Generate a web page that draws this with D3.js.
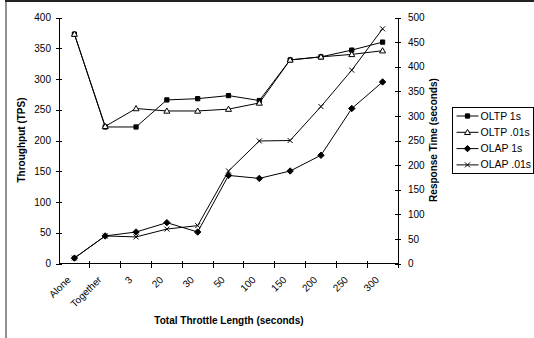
<!DOCTYPE html>
<html>
<head>
<script src="https://d3js.org/d3.v7.min.js"></script>
<style type="text/css">
body { margin:0; background:#fff; }
svg { font-family: "Liberation Sans", Arial, sans-serif; }
.axis path, .axis line { stroke:#000; shape-rendering:crispEdges; }
.axis text { font-size:10px; fill:#000; font-family: "Liberation Sans", Arial, sans-serif; }
.title { font-size:10px; font-weight:bold; }
</style>
</head>
<body>
<svg id="chart" width="534" height="338"></svg>
<script>
// categories and series (OLTP on throughput axis, OLAP on response time axis)
var categories = ["Alone", "Together", "3", "20", "30", "50", "100", "150", "200", "250", "300"];
var oltp1s   = [373, 222, 222, 266, 268, 273, 265, 331, 336, 347, 360];
var oltp001s = [373, 223, 252, 248, 248, 251, 261, 331, 336, 340, 346];
var olap1s   = [11, 56, 64, 83, 64, 179, 173, 188, 220, 315, 369];
var olap001s = [11, 56, 54, 70, 77, 188, 249, 250, 319, 393, 477];
var leftTicks  = [0, 50, 100, 150, 200, 250, 300, 350, 400];
var rightTicks = [0, 50, 100, 150, 200, 250, 300, 350, 400, 450, 500];

var series = [
  {name:"OLTP 1s",   values:oltp1s,   axis:"left",  mark:"square"},
  {name:"OLTP .01s", values:oltp001s, axis:"left",  mark:"triangle"},
  {name:"OLAP 1s",   values:olap1s,   axis:"right", mark:"diamond"},
  {name:"OLAP .01s", values:olap001s, axis:"right", mark:"cross"}
];

var svg = d3.select("#chart");
var plotL = 59, plotR = 398, plotT = 17.5, plotB = 263.5;

// frame (image is cropped: only top and left edges show)
svg.append("line").attr("x1", 5).attr("x2", 534).attr("y1", 1).attr("y2", 1)
  .attr("stroke", "#222").attr("stroke-width", 2);
svg.append("line").attr("x1", 6).attr("x2", 6).attr("y1", 0).attr("y2", 338)
  .attr("stroke", "#222").attr("stroke-width", 1);

var x = d3.scaleBand().domain(categories).range([plotL, plotR]).padding(0);
var yL = d3.scaleLinear().domain([0, 400]).range([plotB, plotT]);
var yR = d3.scaleLinear().domain([0, 500]).range([plotB, plotT]);
function cx(d) { return x(d) + x.bandwidth() / 2; }

// left axis
var gl = svg.append("g").attr("class", "axis")
  .attr("transform", "translate(" + plotL + ",0)")
  .call(d3.axisLeft(yL).tickValues(leftTicks).tickSizeOuter(0).tickSize(3).tickPadding(5));
gl.selectAll(".tick line").attr("x1", -3).attr("x2", 3);

// right axis
var gr = svg.append("g").attr("class", "axis")
  .attr("transform", "translate(" + plotR + ",0)")
  .call(d3.axisRight(yR).tickValues(rightTicks).tickSizeOuter(0).tickSize(3).tickPadding(7));
gr.selectAll(".tick line").attr("x1", -3).attr("x2", 3);

// x axis: ticks on category boundaries, labels rotated
var gx = svg.append("g").attr("class", "axis");
gx.append("line").attr("x1", plotL).attr("x2", plotR).attr("y1", plotB).attr("y2", plotB);
gx.selectAll(".xt").data(categories.slice(1).concat(["end"])).enter().append("line")
  .attr("x1", function(d) { return d === "end" ? plotR : x(d); })
  .attr("x2", function(d) { return d === "end" ? plotR : x(d); })
  .attr("y1", plotB - 3).attr("y2", plotB + 4);
gx.selectAll(".xl").data(categories).enter().append("text")
  .attr("text-anchor", "end")
  .attr("transform", function(d) { return "translate(" + (cx(d) - 3) + "," + (plotB + 17) + ") rotate(-45)"; })
  .text(function(d) { return d; });

// axis titles
svg.append("text").attr("class", "title").attr("text-anchor", "middle")
  .attr("transform", "translate(25,140) rotate(-90)").text("Throughput (TPS)");
svg.append("text").attr("class", "title").attr("text-anchor", "middle")
  .attr("transform", "translate(437,140) rotate(-90)").text("Response Time (seconds)");
svg.append("text").attr("class", "title").attr("text-anchor", "middle")
  .attr("x", 229).attr("y", 324).text("Total Throttle Length (seconds)");

function markPath(kind) {
  if (kind === "square") return d3.symbol(d3.symbolSquare, 18)();
  if (kind === "triangle") return "M0,-3L3,2.2L-3,2.2Z";
  if (kind === "diamond") return "M0,-3.2L3.2,0L0,3.2L-3.2,0Z";
  return "M-2.5,-2.5L2.5,2.5M-2.5,2.5L2.5,-2.5";
}
function markStyle(sel, kind) {
  sel.attr("d", markPath(kind))
    .attr("fill", kind === "triangle" ? "#fff" : (kind === "cross" ? "none" : "#000"))
    .attr("stroke", "#000").attr("stroke-width", 1);
}

series.forEach(function(s) {
  var y = s.axis === "left" ? yL : yR;
  var line = d3.line()
    .x(function(d, i) { return cx(categories[i]); })
    .y(function(d) { return y(d); });
  svg.append("path").datum(s.values).attr("d", line)
    .attr("fill", "none").attr("stroke", "#000").attr("stroke-width", 1);
  svg.selectAll(null).data(s.values).enter().append("path")
    .attr("transform", function(d, i) { return "translate(" + cx(categories[i]) + "," + y(d) + ")"; })
    .call(markStyle, s.mark);
});

// legend
var lg = svg.append("g").attr("transform", "translate(452.5,107.5)");
lg.append("rect").attr("width", 81).attr("height", 66)
  .attr("fill", "#fff").attr("stroke", "#000").attr("stroke-width", 1);
series.forEach(function(s, i) {
  var ly = 8.5 + i * 16.3;
  lg.append("line").attr("x1", 4).attr("x2", 26).attr("y1", ly).attr("y2", ly)
    .attr("stroke", "#000");
  lg.append("path").attr("transform", "translate(15," + ly + ")").call(markStyle, s.mark);
  lg.append("text").attr("x", 28).attr("y", ly + 3.5).style("font-size", "10.5px").text(s.name);
});
</script>
</body>
</html>
